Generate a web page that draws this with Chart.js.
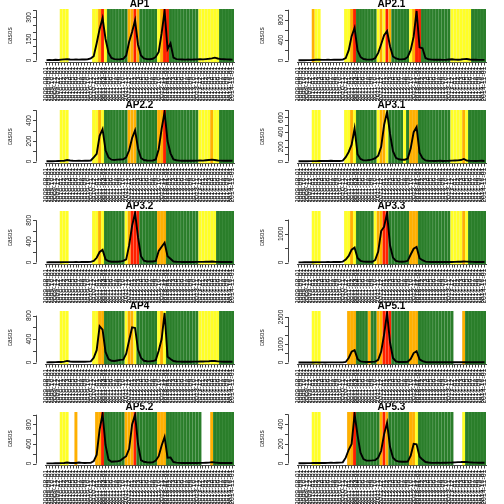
<!DOCTYPE html>
<html>
<head>
<meta charset="utf-8">
<script src="https://cdn.jsdelivr.net/npm/chart.js@4.4.1/dist/chart.umd.min.js"></script>
<style>
html,body{margin:0;padding:0;background:#fff;}
#wrap{position:relative;width:504px;height:504px;overflow:hidden;background:#fff;}
.cell{position:absolute;width:252px;height:101px;}
canvas{display:block;}
</style>
</head>
<body>
<div id="wrap"></div>
<script>
// ---------- x categories (time) ----------
const semanas = [
"2009-08-01","2009-09-01","2009-10-01","2009-11-01","2009-12-01",
"2010-01-01","2010-02-01","2010-03-01","2010-04-01","2010-05-01","2010-06-01","2010-07-01","2010-08-01","2010-09-01","2010-10-01","2010-11-01","2010-12-01",
"2011-01-01","2011-02-01","2011-03-01","2011-04-01","2011-05-01","2011-06-01","2011-07-01","2011-08-01","2011-09-01","2011-10-01","2011-11-01","2011-12-01",
"2012-01-01","2012-02-01","2012-03-01","2012-04-01","2012-05-01","2012-06-01","2012-07-01","2012-08-01","2012-09-01","2012-10-01","2012-11-01","2012-12-01",
"2013-01-01","2013-02-01","2013-03-01","2013-04-01","2013-05-01","2013-06-01","2013-07-01","2013-08-01","2013-09-01","2013-10-01","2013-11-01","2013-12-01",
"2014-01-01","2014-02-01","2014-03-01","2014-04-01","2014-05-01","2014-06-01","2014-07-01","2014-08-01","2014-09-01","2014-10-01","2014-11-01"
];

// ---------- panel names ----------
const areas = ["AP1","AP2.1","AP2.2","AP3.1","AP3.2","AP3.3","AP4","AP5.1","AP5.2","AP5.3"];

// ---------- cases per area ----------
const casosAP1  = [3,4,3,5,4,6,8,9,7,6,7,6,8,7,9,15,30,120,220,295,150,55,18,10,8,9,12,35,130,200,280,110,35,15,10,9,12,25,60,190,345,80,120,20,10,8,7,6,7,6,7,8,9,8,10,12,15,20,14,10,9,8,7,6];
const casosAP21 = [5,6,5,8,7,10,14,16,13,12,14,13,15,14,16,18,50,200,480,645,200,70,30,20,18,20,50,150,320,500,580,280,80,40,25,22,30,70,210,470,975,260,240,50,25,18,15,14,15,13,15,20,25,18,15,20,28,30,20,15,14,12,13,12];
const casosAP22 = [3,4,3,4,5,6,8,15,10,7,6,7,6,8,7,10,40,75,250,315,110,40,18,15,18,20,22,40,110,230,305,130,35,15,10,9,10,20,120,320,483,200,80,20,12,9,8,7,8,7,8,9,10,9,12,15,18,15,10,9,8,8,9,7];
const casosAP31 = [3,3,4,4,5,5,6,8,7,9,8,10,8,7,8,12,60,130,230,450,100,35,15,15,20,30,45,80,200,500,675,380,140,50,30,25,25,40,180,400,470,120,45,15,10,9,8,9,10,8,9,10,12,14,15,20,35,12,10,9,8,9,10,8];
const casosAP32 = [3,4,4,5,5,6,7,8,8,7,9,8,10,9,10,12,30,90,200,240,60,25,15,15,16,18,30,60,330,700,940,480,120,35,20,18,20,30,220,300,375,120,70,20,14,12,11,10,12,11,10,12,13,12,14,15,18,14,12,11,10,11,12,10];
const casosAP33 = [5,6,7,8,9,10,12,14,13,15,16,15,18,17,20,30,100,230,450,520,160,60,30,25,25,28,90,380,1100,1250,1730,600,170,60,30,28,30,60,280,480,545,150,80,30,22,20,18,17,18,16,17,18,20,22,25,28,35,30,25,22,20,18,20,18];
const casosAP4  = [3,4,5,6,8,10,15,28,18,14,12,13,15,14,16,20,80,210,620,560,180,60,30,25,35,45,50,150,380,600,590,220,80,30,22,20,25,40,200,400,845,100,60,25,18,15,14,15,13,14,15,16,18,17,20,22,28,25,20,15,14,13,14,12];
const casosAP51 = [2,3,3,4,4,5,6,5,6,5,6,7,6,8,7,10,30,250,600,680,200,60,35,30,32,35,50,150,600,1550,2720,1100,250,60,30,28,30,40,200,520,620,180,80,30,18,15,14,13,12,13,14,15,16,15,17,18,20,18,16,15,14,13,14,12];
const casosAP52 = [2,3,3,4,5,8,10,22,12,10,12,22,14,12,13,15,50,180,700,1015,380,80,35,40,45,60,110,150,300,800,1000,400,70,35,25,22,24,60,150,370,545,120,125,30,18,14,12,11,12,10,11,12,14,13,15,18,28,20,15,12,11,10,11,10];
const casosAP53 = [2,3,3,4,4,5,6,6,7,6,7,8,7,8,9,12,60,140,200,505,290,110,45,30,30,32,35,60,130,300,415,170,60,30,20,18,18,20,80,200,195,70,40,15,10,8,7,8,7,8,8,9,10,12,14,15,17,15,12,10,9,8,9,8];

// ---------- alert level per time unit (W none, Y yellow, O orange, R red, G green) ----------
const alertaAP1  = "WWWWWYYYWWWWWWWWYYORYGGGGGGGOOROGGGGGGYORRGGGGGGGGGGYYYYYYYGGGGG";
const alertaAP21 = "WWWWWOYYWWWWWWWWYYORGGGGGGGYOYROGGGGGGYORRGGGGGGGGGGYYYYYYYGGGGG";
const alertaAP22 = "WWWWWYYYWWWWWWWWYYOYGGGGGGGGOOOGGGGGGGOORGGGGGGGGGGGYYYYOYYGGGGG";
const alertaAP31 = "WWWWWYYYWWWWWWWWYYOYGGGGGGGYOOYGGGGGYGOOOGGGGGGGGGGGYYYYOYGGGGGG";
const alertaAP32 = "WWWWWYYYWWWWWWWWYYOYGGGGGGGYORRRGGGGGGOOOGGGGGGGGGGGYYYYYYGGGGGG";
const alertaAP33 = "WWWWWYYYWWWWWWWWYYOYGGGGGGYOORRGGGGGGGOOOGGGGGGGGGGGYYYYOYGGGGGG";
const alertaAP4  = "WWWWWYYYWWWWWWWWYYOOGGGGGGGYOOYGGGGGGGYOYGGGGGGGGGGGYYYYYYYGGGGG";
const alertaAP51 = "WWWWWYYYWWWWWWWWWOOOGGGGOGGOORRRGGGGGGOOOGGGGGGGGGGGGWWWOGGGGGGG";
const alertaAP52 = "WWWWWYYYWWOWWWWWWOORGGGGGGGOOORGGGGGGGOOOGGGGGGGGGGGGWWWOGGGGGGG";
const alertaAP53 = "WWWWWYYYWWWWWWWWWOORGGGGGGGGOROGGGGGGGOOYGGGGGGGGGGGGWWWYGGGGGGG";

// ---------- y axis tick step and printed tick labels ----------
const passoY   = [50, 200, 100, 100, 200, 500, 200, 500, 200, 100];
const rotulosY = [[0,150,300],[0,400,800],[0,200,400],[0,200,400,600],[0,400,800],[0,1000],[0,400,800],[0,1000,2500],[0,400,800],[0,200,400]];

const casos  = [casosAP1,casosAP21,casosAP22,casosAP31,casosAP32,casosAP33,casosAP4,casosAP51,casosAP52,casosAP53];
const alerta = [alertaAP1,alertaAP21,alertaAP22,alertaAP31,alertaAP32,alertaAP33,alertaAP4,alertaAP51,alertaAP52,alertaAP53];

const CORES  = {Y:'#FFFF26', O:'#FFB000', R:'#FF2000', G:'#2A7E2A'};
const LINHAS = {Y:'#F4F46A', O:'#F7C04A', R:'#FF5030', G:'#4A944A'};
const FONT = '"Liberation Sans", Arial, Helvetica, sans-serif';
Chart.defaults.font.family = FONT;

const rAxes = {
  id: 'rAxes',
  afterDraw(chart, args, opts) {
    const ctx = chart.ctx, ys = chart.scales.y, area = chart.chartArea;
    const step = opts.step;
    const last = Math.floor(ys.max / step) * step;
    const ax = 36.5;
    ctx.save();
    ctx.strokeStyle = '#444';
    ctx.lineWidth = 1;
    ctx.beginPath();
    ctx.moveTo(ax, ys.getPixelForValue(0));
    ctx.lineTo(ax, ys.getPixelForValue(last));
    for (let v = 0; v <= last + 1e-9; v += step) {
      const py = Math.round(ys.getPixelForValue(v)) + 0.5;
      ctx.moveTo(ax, py);
      ctx.lineTo(ax - 3.5, py);
    }
    ctx.stroke();
    ctx.fillStyle = '#111';
    ctx.font = '6.5px ' + FONT;
    ctx.textAlign = 'center';
    ctx.textBaseline = 'middle';
    opts.labels.forEach(v => {
      ctx.save();
      ctx.translate(29.5, ys.getPixelForValue(v));
      ctx.rotate(-Math.PI / 2);
      ctx.fillText(String(v), 0, 0);
      ctx.restore();
    });
    ctx.fillStyle = '#000';
    ctx.font = 'bold 10px ' + FONT;
    ctx.fillText(opts.title, (area.left + area.right) / 2, 4.5);
    ctx.restore();
  }
};

const wrap = document.getElementById('wrap');
areas.forEach((nome, i) => {
  const col = i % 2, row = Math.floor(i / 2);
  const div = document.createElement('div');
  div.className = 'cell';
  div.style.left = (col * 252) + 'px';
  div.style.top = Math.round(row * 100.8) + 'px';
  const cv = document.createElement('canvas');
  cv.width = 252; cv.height = 101;
  div.appendChild(cv);
  wrap.appendChild(div);

  const vals = casos[i];
  const M = Math.max(...vals);
  const yMin = -0.04 * M, yMax = 1.04 * M;
  const faixas = alerta[i].split('');

  new Chart(cv, {
    type: 'bar',
    data: {
      labels: semanas,
      datasets: [
        {
          type: 'line', data: vals, borderColor: '#000', borderWidth: 1.9,
          pointRadius: 0, tension: 0, order: 0, fill: false
        },
        {
          type: 'bar',
          data: faixas.map(c => c === 'W' ? null : [yMin, yMax]),
          backgroundColor: faixas.map(c => CORES[c] || 'rgba(0,0,0,0)'),
          borderColor: faixas.map(c => LINHAS[c] || 'rgba(0,0,0,0)'),
          borderWidth: {left: 0.6, right: 0, top: 0, bottom: 0},
          borderSkipped: false,
          barPercentage: 1, categoryPercentage: 1, order: 1
        }
      ]
    },
    options: {
      responsive: false, animation: false, devicePixelRatio: 1,
      layout: {padding: {top: 9, right: 18, left: 0, bottom: 0}},
      plugins: {
        legend: {display: false}, tooltip: {enabled: false}, title: {display: false},
        rAxes: {step: passoY[i], labels: rotulosY[i], title: nome}
      },
      scales: {
        x: {
          offset: true,
          grid: {display: true, drawOnChartArea: false, drawTicks: true, tickLength: 3, offset: false, color: '#444'},
          border: {display: true, color: '#444', width: 1},
          ticks: {autoSkip: false, minRotation: 90, maxRotation: 90, font: {size: 7}, color: '#000', padding: 1},
          afterFit: s => { s.height = 38.5; }
        },
        y: {
          min: yMin, max: yMax,
          grid: {display: false}, border: {display: false},
          ticks: {display: false},
          title: {display: true, text: 'casos', color: '#222', font: {size: 6.5}, padding: {top: 6.5, bottom: 0}},
          afterFit: s => { s.width = 45; }
        }
      }
    },
    plugins: [rAxes]
  });
});
</script>
</body>
</html>
